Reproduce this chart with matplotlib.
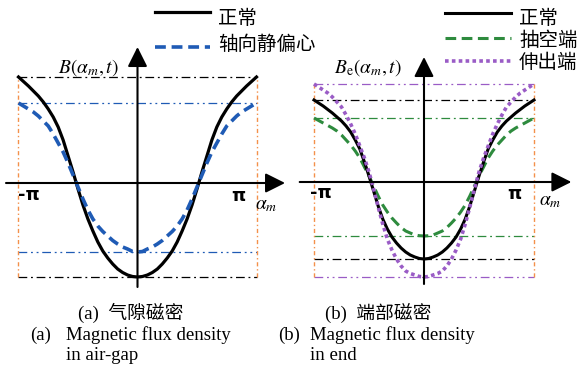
import numpy as np
import matplotlib.pyplot as plt
from matplotlib.lines import Line2D

plt.rcParams['mathtext.fontset'] = 'stix'

W, H = 583, 367

# sample positions over half a period, alpha_m / pi = k / 24
phase = [k / 24 for k in range(25)]

# air-gap flux density B(alpha_m, t)
b_normal = [-0.94, -0.935, -0.92, -0.895, -0.86, -0.81, -0.75, -0.68, -0.59, -0.48,
            -0.36, -0.22, -0.06, 0.11, 0.27, 0.43, 0.56, 0.66, 0.74, 0.81,
            0.87, 0.92, 0.97, 1.015, 1.06]
b_static = [-0.69, -0.685, -0.66, -0.64, -0.61, -0.575, -0.53, -0.485, -0.43, -0.36,
            -0.27, -0.16, -0.04, 0.08, 0.20, 0.31, 0.40, 0.49, 0.57, 0.62,
            0.67, 0.71, 0.74, 0.77, 0.80]

# end flux density Be(alpha_m, t)
be_normal = [-0.77, -0.765, -0.75, -0.73, -0.70, -0.66, -0.61, -0.55, -0.47, -0.37,
             -0.24, -0.09, 0.06, 0.20, 0.33, 0.42, 0.50, 0.56, 0.61, 0.65,
             0.69, 0.725, 0.76, 0.79, 0.82]
be_pump = [-0.54, -0.537, -0.53, -0.51, -0.49, -0.455, -0.41, -0.36, -0.30, -0.23,
           -0.14, -0.04, 0.06, 0.15, 0.24, 0.31, 0.37, 0.42, 0.47, 0.51,
           0.54, 0.565, 0.59, 0.615, 0.64]
be_shaft = [-0.95, -0.945, -0.93, -0.915, -0.89, -0.84, -0.77, -0.68, -0.57, -0.42,
            -0.25, -0.07, 0.10, 0.24, 0.36, 0.48, 0.58, 0.67, 0.75, 0.80,
            0.85, 0.89, 0.92, 0.95, 0.98]

labels_a = ['正常', '轴向静偏心']
labels_b = ['正常', '抽空端', '伸出端']

BLUE = '#1f5bb5'
GREEN = '#2e8b3e'
PURPLE = '#9a5cc6'
ORANGE = '#f4904a'

cjk = ['Noto Sans CJK SC', 'DejaVu Sans']
serif = ['Liberation Serif', 'Noto Sans CJK SC']


def full(v):
    p = np.array(phase)
    v = np.array(v)
    x = np.concatenate([-p[::-1], p[1:]]) * np.pi
    y = np.concatenate([v[::-1], v[1:]])
    return x, y


def panel(fig, cx, cy, hw):
    # axes over the whole figure, origin placed at pixel (cx, cy)
    ax = fig.add_axes([0, 0, 1, 1])
    ax.set_xlim(-cx / hw * np.pi, (W - cx) / hw * np.pi)
    ax.set_ylim(-(H - cy) / 100, cy / 100)
    ax.axis('off')
    ax.patch.set_alpha(0)
    return ax


def arrows(ax, x0, x1, y0, y1):
    style = dict(arrowstyle='-|>,head_length=0.6,head_width=0.3',
                 mutation_scale=20, lw=1.5, color='black', shrinkA=0, shrinkB=0)
    ax.annotate('', xy=(x1, 0), xytext=(x0, 0), arrowprops=style)
    ax.annotate('', xy=(0, y1), xytext=(0, y0), arrowprops=style)


def ref_lines(ax, lo, hi, color, ls):
    ax.plot([-np.pi, np.pi], [hi, hi], color=color, lw=0.9, ls=ls)
    ax.plot([-np.pi, np.pi], [lo, lo], color=color, lw=0.9, ls=ls)


def px(x, y):
    return x / W, 1 - y / H


def legend_row(fig, x0, x1, y, ty, text, **kw):
    fig.add_artist(Line2D([x0 / W, x1 / W], [1 - y / H] * 2,
                          transform=fig.transFigure, **kw))
    fig.text(*px(x1 + 8, ty), text, family=cjk, fontsize=14, va='center', ha='left')


dashdot = (0, (7, 3, 1.5, 3))
dashdotdot = (0, (7, 3, 1.5, 3, 1.5, 3))
orange_ls = (0, (3, 2, 1, 2))

fig = plt.figure(figsize=(W / 100, H / 100), dpi=100)

# (a) air-gap
ax = panel(fig, 137.5, 183, 119)
ref_lines(ax, b_normal[0], b_normal[-1], 'black', dashdot)
ref_lines(ax, b_static[0], b_static[-1], BLUE, dashdotdot)
for s in (-1, 1):
    ax.plot([s * np.pi, s * np.pi], [b_normal[0], b_normal[-1]], color=ORANGE, lw=1, ls=orange_ls)
arrows(ax, -1.105 * np.pi, 1.24 * np.pi, -1.04, 1.36)
x, y = full(b_normal)
ax.plot(x, y, color='black', lw=2.3)
x, y = full(b_static)
ax.plot(x, y, color=BLUE, lw=2.6, ls=(0, (3, 1.6)))

# (b) end region
ax = panel(fig, 424, 182, 110)
ref_lines(ax, be_shaft[0], be_shaft[-1], PURPLE, dashdotdot)
ref_lines(ax, be_normal[0], be_normal[-1], 'black', dashdot)
ref_lines(ax, be_pump[0], be_pump[-1], GREEN, dashdot)
for s in (-1, 1):
    ax.plot([s * np.pi, s * np.pi], [be_shaft[0], be_shaft[-1]], color=ORANGE, lw=1, ls=orange_ls)
arrows(ax, -1.13 * np.pi, 1.34 * np.pi, -1.02, 1.25)
x, y = full(be_pump)
ax.plot(x, y, color=GREEN, lw=2.2, ls=(0, (3.5, 1.8)))
x, y = full(be_normal)
ax.plot(x, y, color='black', lw=2.2)
x, y = full(be_shaft)
ax.plot(x, y, color=PURPLE, lw=2.6, ls=(0, (1, 0.9)))

# legends
legend_row(fig, 155, 210, 12, 19, labels_a[0], color='black', lw=2.3)
legend_row(fig, 155, 210, 47, 44, labels_a[1], color=BLUE, lw=2.6, ls=(0, (3, 1.6)))
legend_row(fig, 445, 511, 13, 18, labels_b[0], color='black', lw=2.2)
legend_row(fig, 445, 511, 38, 40, labels_b[1], color=GREEN, lw=2.2, ls=(0, (3.5, 1.8)))
legend_row(fig, 445, 511, 61, 62, labels_b[2], color=PURPLE, lw=2.6, ls=(0, (1, 0.9)))

# axis names and tick marks
fig.text(*px(88, 68), r'$B(\alpha_m,t)$', fontsize=14, ha='center', va='center')
fig.text(*px(368, 68), r'$B_{\mathrm{e}}(\alpha_m,t)$', fontsize=14, ha='center', va='center')
for xx, yy, s in [(29, 195, '-π'), (238, 196, 'π'), (321, 193, '-π'), (514, 194, 'π')]:
    fig.text(*px(xx, yy), s, fontsize=13, ha='center', va='center',
             family='DejaVu Sans', fontweight='bold')
fig.text(*px(266, 204), r'$\alpha_m$', fontsize=14, ha='center', va='center')
fig.text(*px(550, 200), r'$\alpha_m$', fontsize=14, ha='center', va='center')

# captions
cap = dict(fontsize=13.5, family=serif, va='center', ha='left')
fig.text(*px(78, 313), '(a)  气隙磁密', **cap)
fig.text(*px(30, 335), '(a)', **cap)
fig.text(*px(66, 335), 'Magnetic flux density', **cap)
fig.text(*px(66, 356), 'in air-gap', **cap)
fig.text(*px(325, 313), '(b)  端部磁密', **cap)
fig.text(*px(278, 335), '(b)', **cap)
fig.text(*px(310, 335), 'Magnetic flux density', **cap)
fig.text(*px(310, 356), 'in end', **cap)

fig.savefig('out.png', dpi=100)
